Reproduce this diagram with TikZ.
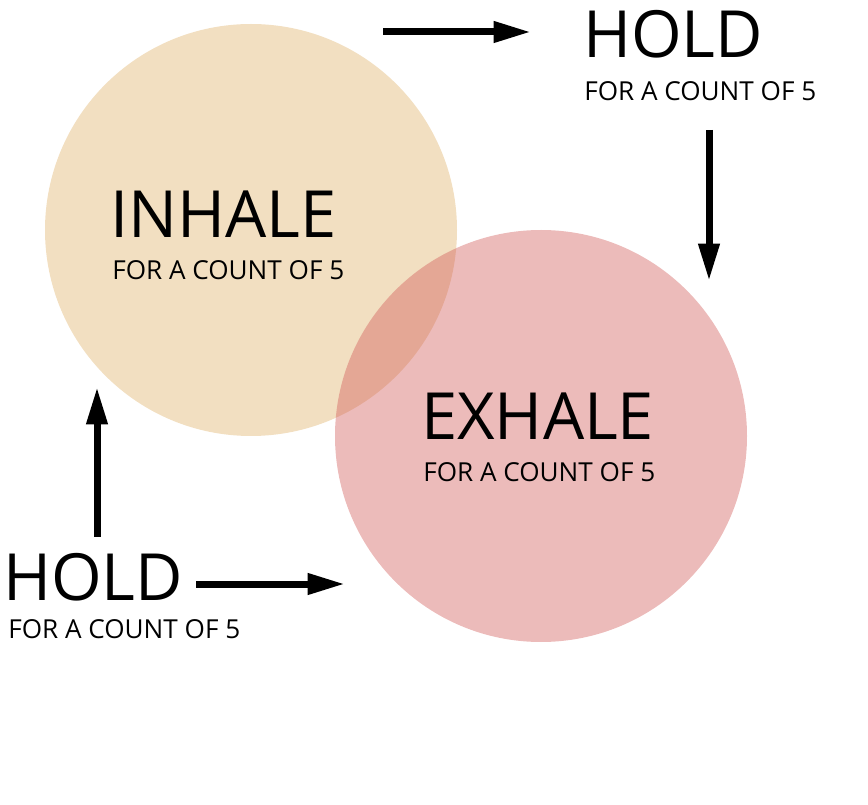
\documentclass[tikz,border=0pt]{standalone}
\usepackage{fontspec}
\setmainfont{Open Sans}
\usepackage{tikz}
\usetikzlibrary{positioning,arrows.meta}
\definecolor{inhalefill}{RGB}{242,223,193}
\definecolor{exhalefill}{RGB}{208,85,83}
\tikzset{
  >={Triangle[length=28pt,width=15pt]},
  bigword/.style={font=\fontsize{48.8}{50}\selectfont,inner sep=0pt,anchor=base west},
  smallword/.style={font=\fontsize{19.6}{20}\selectfont,inner sep=0pt,anchor=base west},
  flow/.style={->,line width=5.25pt,black},
}

\begin{document}
\begin{tikzpicture}[x=0.75pt,y=-0.75pt]
  \useasboundingbox (0,0) rectangle (868,805);
  \fill[inhalefill] (251,230) circle[radius=206];
  \fill[exhalefill,opacity=0.4] (541,436) circle[radius=206];
  \node[bigword] (inhale) at (110,238) {INHALE};
  \node[smallword] (inhalesub) at (112,280) {FOR A COUNT OF 5};
  \node[bigword] (exhale) at (421,440) {EXHALE};
  \node[smallword] (exhalesub) at (423,482) {FOR A COUNT OF 5};
  \node[bigword] (holdtop) at (583,58) {HOLD};
  \node[smallword] (holdtopsub) at (584,101) {FOR A COUNT OF 5};
  \node[bigword] (holdbot) at (3,600) {HOLD};
  \node[smallword] (holdbotsub) at (8,638) {FOR A COUNT OF 5};
  \coordinate (a1s) at (383,32);
  \coordinate (a1e) at (531,32);
  \coordinate (a2s) at (709,130);
  \coordinate (a2e) at (709,281);
  \coordinate (a3s) at (196,584);
  \coordinate (a3e) at (345,584);
  \coordinate (a4s) at (97,537);
  \coordinate (a4e) at (97,387);
  \draw[flow] (a1s) -- (a1e);
  \draw[flow] (a2s) -- (a2e);
  \draw[flow] (a3s) -- (a3e);
  \draw[flow] (a4s) -- (a4e);
\end{tikzpicture}
\end{document}
